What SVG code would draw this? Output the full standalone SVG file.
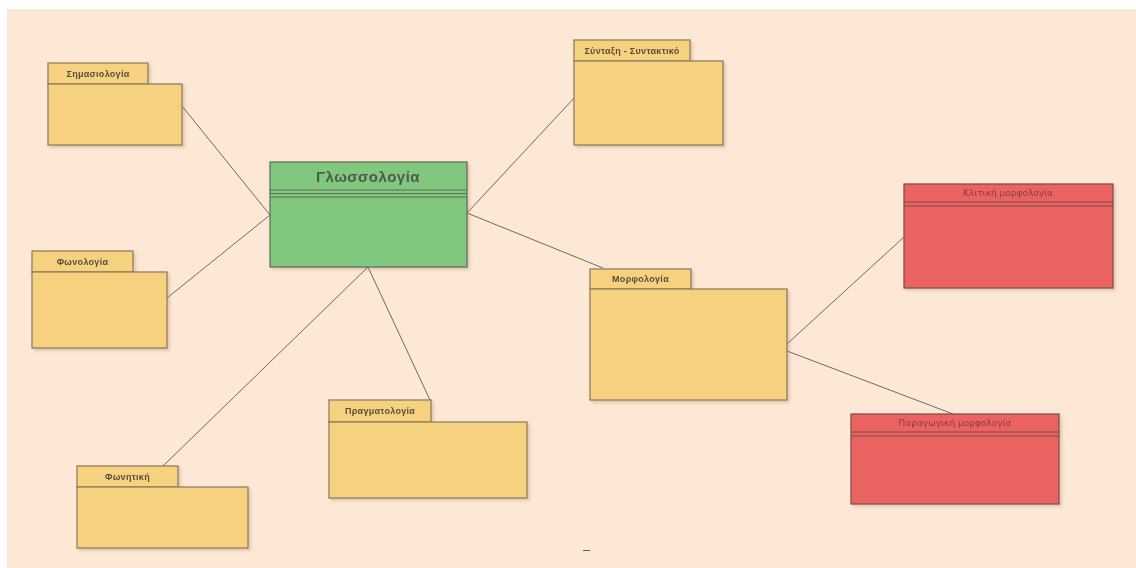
<svg xmlns="http://www.w3.org/2000/svg" width="1136" height="568" viewBox="0 0 1136 568">
<defs>
<filter id="sh" x="-5%" y="-5%" width="115%" height="115%">
<feDropShadow dx="2" dy="2" stdDeviation="1.5" flood-color="#a08060" flood-opacity="0.35"/>
</filter>
</defs>
<style>
.pk{fill:#f6d17f;stroke:#8a7858;stroke-width:1.2}
.cl{fill:#82c77e;stroke:#5d6b5c;stroke-width:1.2}
.rd{fill:#eb6460;stroke:#7b4a48;stroke-width:1.2}
.sepg{stroke:#5d6b5c;stroke-width:1}
.sepr{stroke:#7b4a48;stroke-width:1}
.lbl{font-family:"Liberation Sans",Arial,sans-serif;font-size:9px;font-weight:bold;fill:#5a4d3c;text-anchor:middle;letter-spacing:0.3px}
.rlbl{font-family:"DejaVu Sans","Liberation Sans",sans-serif;font-size:9px;fill:#8a3d3d;text-anchor:middle}
.title{font-family:"Liberation Sans",Arial,sans-serif;font-size:15px;font-weight:bold;fill:#4e5a4d;text-anchor:middle;letter-spacing:0.5px}
.ln{stroke:#6a6a6a;stroke-width:1;fill:none}
</style>
<rect x="7" y="9" width="1129" height="559" fill="#fde8d5"/>
<g id="connectors">
<line class="ln" x1="182" y1="106" x2="270" y2="215"/>
<line class="ln" x1="167" y1="298" x2="270" y2="215"/>
<line class="ln" x1="163" y1="466" x2="368" y2="267"/>
<line class="ln" x1="368" y1="267" x2="430" y2="400"/>
<line class="ln" x1="467" y1="213" x2="575" y2="97"/>
<line class="ln" x1="467" y1="213" x2="603" y2="268"/>
<line class="ln" x1="787" y1="344" x2="904" y2="237"/>
<line class="ln" x1="787" y1="351" x2="953" y2="414"/>
</g>
<g id="glossologia" filter="url(#sh)">
<rect class="cl" x="270" y="162" width="197" height="105"/>
<line class="sepg" x1="270" y1="190" x2="467" y2="190"/>
<line class="sepg" x1="270" y1="193.5" x2="467" y2="193.5"/>
<line class="sepg" x1="270" y1="197" x2="467" y2="197"/>
<text class="title" x="368" y="182">Γλωσσολογία</text>
</g>
<g id="simasiologia" filter="url(#sh)">
<rect class="pk" x="48" y="63" width="100" height="21"/>
<rect class="pk" x="48" y="84" width="134" height="61"/>
<text class="lbl" x="98" y="77">Σημασιολογία</text>
</g>
<g id="fonologia" filter="url(#sh)">
<rect class="pk" x="32" y="251" width="101" height="21"/>
<rect class="pk" x="32" y="272" width="135" height="76"/>
<text class="lbl" x="82.5" y="265">Φωνολογία</text>
</g>
<g id="fonitiki" filter="url(#sh)">
<rect class="pk" x="77" y="466" width="101" height="21"/>
<rect class="pk" x="77" y="487" width="171" height="61"/>
<text class="lbl" x="127.5" y="480">Φωνητική</text>
</g>
<g id="pragmatologia" filter="url(#sh)">
<rect class="pk" x="329" y="400" width="102" height="22"/>
<rect class="pk" x="329" y="422" width="198" height="76"/>
<text class="lbl" x="380" y="414">Πραγματολογία</text>
</g>
<g id="syntaxi" filter="url(#sh)">
<rect class="pk" x="574" y="40" width="116" height="21"/>
<rect class="pk" x="574" y="61" width="149" height="84"/>
<text class="lbl" x="632" y="54">Σύνταξη - Συντακτικό</text>
</g>
<g id="morfologia" filter="url(#sh)">
<rect class="pk" x="590" y="269" width="101" height="20"/>
<rect class="pk" x="590" y="289" width="197" height="111"/>
<text class="lbl" x="640.5" y="282">Μορφολογία</text>
</g>
<g id="klitiki" filter="url(#sh)">
<rect class="rd" x="904" y="184" width="209" height="104"/>
<line class="sepr" x1="904" y1="202" x2="1113" y2="202"/>
<line class="sepr" x1="904" y1="206" x2="1113" y2="206"/>
<text class="rlbl" x="1008" y="196">Κλιτική μορφολογία</text>
</g>
<g id="paragogiki" filter="url(#sh)">
<rect class="rd" x="851" y="414" width="208" height="90"/>
<line class="sepr" x1="851" y1="432" x2="1059" y2="432"/>
<line class="sepr" x1="851" y1="436" x2="1059" y2="436"/>
<text class="rlbl" x="955" y="426">Παραγωγική μορφολογία</text>
</g>
<line x1="583" y1="550.5" x2="590" y2="550.5" stroke="#6a5a4a" stroke-width="1"/>
</svg>
